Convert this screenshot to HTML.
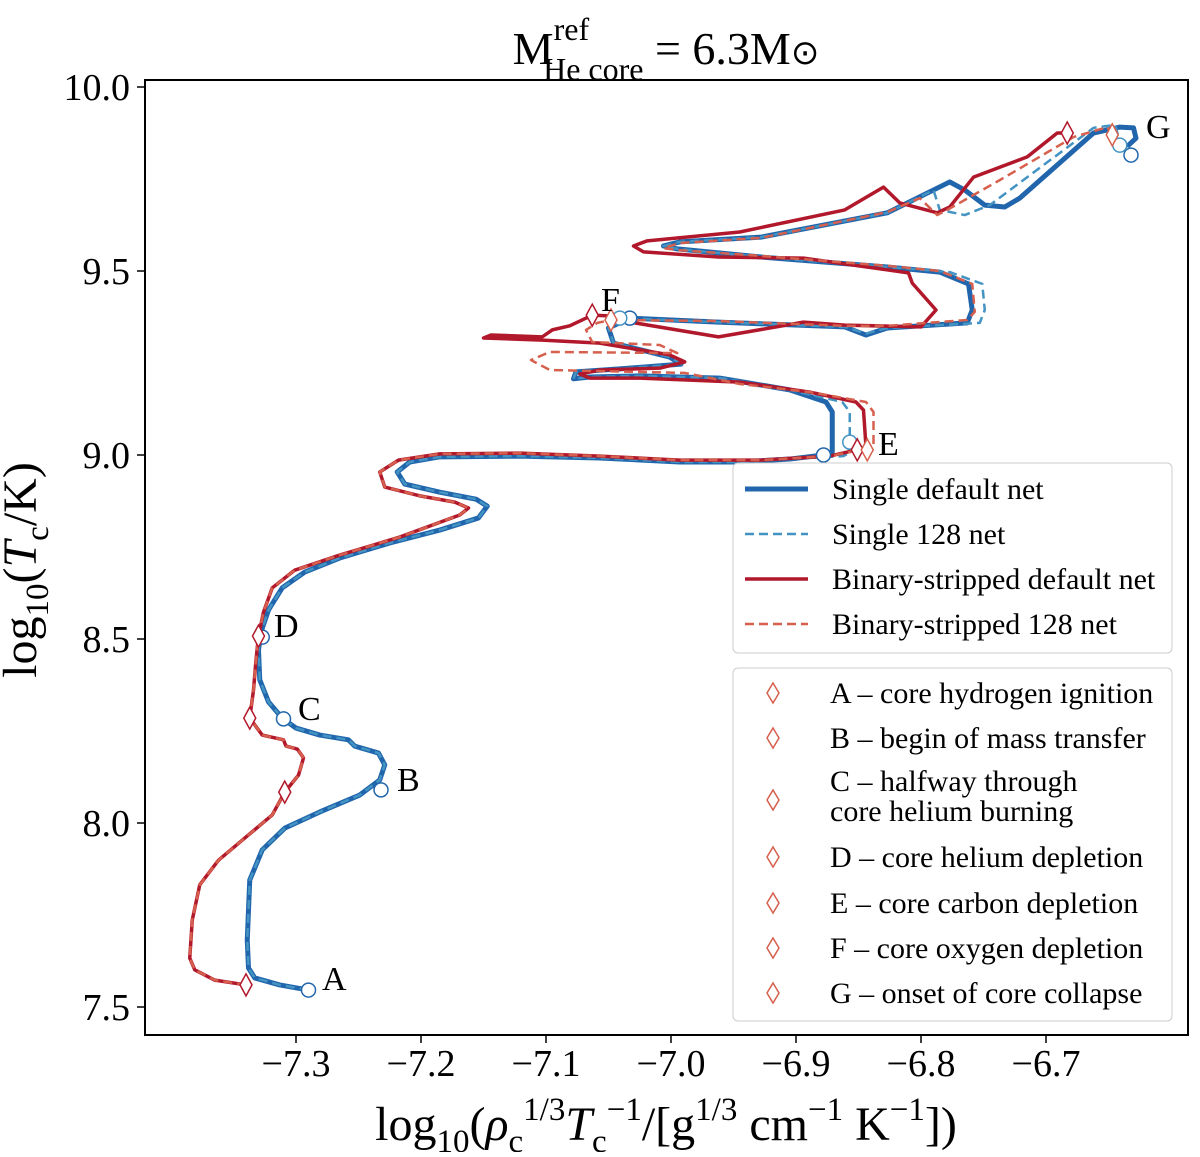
<!DOCTYPE html>
<html><head><meta charset="utf-8"><style>
html,body{margin:0;padding:0;background:#fff}
svg text{font-family:"Liberation Serif","DejaVu Serif",serif;fill:#000}
</style></head><body>
<svg id="chart" width="1200" height="1152" viewBox="0 0 1200 1152" xmlns="http://www.w3.org/2000/svg">
<text x="666" y="64" font-size="46" text-anchor="middle">M<tspan font-size="32" dy="-24">ref</tspan><tspan font-size="32" dx="-46" dy="40">He core</tspan><tspan dy="-16"> = 6.3M</tspan><tspan font-family="DejaVu Sans" font-size="34">⊙</tspan></text>
<rect x="145" y="80" width="1043" height="955" fill="none" stroke="#000" stroke-width="2"/>
<g id="ticks"></g>
<g id="series"></g>
<g id="markers"></g>
<g id="labels" font-size="34">
<text x="322" y="990">A</text>
<text x="397" y="791">B</text>
<text x="298" y="720">C</text>
<text x="274" y="637">D</text>
<text x="878" y="455">E</text>
<text x="601" y="311">F</text>
<text x="1146" y="138">G</text>
</g>
<text transform="translate(36,570) rotate(-90)" font-size="48" text-anchor="middle">log<tspan font-size="33" dy="12">10</tspan><tspan dy="-12">(</tspan><tspan font-style="italic">T</tspan><tspan font-size="33" dy="12">c</tspan><tspan dy="-12">/K)</tspan></text>
<text x="666" y="1140" font-size="48" text-anchor="middle">log<tspan font-size="33" dy="12">10</tspan><tspan dy="-12">(</tspan><tspan font-style="italic">ρ</tspan><tspan font-size="33" dy="12">c</tspan><tspan font-size="33" dy="-32">1/3</tspan><tspan font-style="italic" dy="20">T</tspan><tspan font-size="33" dy="12">c</tspan><tspan font-size="33" dy="-32">−1</tspan><tspan dy="20">/[g</tspan><tspan font-size="33" dy="-20">1/3</tspan><tspan dy="20"> cm</tspan><tspan font-size="33" dy="-20">−1</tspan><tspan dy="20"> K</tspan><tspan font-size="33" dy="-20">−1</tspan><tspan dy="20">])</tspan></text>
<g font-size="30">
<rect x="733" y="463" width="439" height="190" rx="5" fill="#fff" fill-opacity="0.9" stroke="#ccc"/>
<g><line x1="745" y1="489" x2="808" y2="489" stroke="#2166ac" stroke-width="5"/><text x="832" y="499">Single default net</text></g>
<g><line x1="745" y1="534" x2="808" y2="534" stroke="#4393c3" stroke-width="2.5" stroke-dasharray="9,5"/><text x="832" y="544">Single 128 net</text></g>
<g><line x1="745" y1="579" x2="808" y2="579" stroke="#b2182b" stroke-width="3.5"/><text x="832" y="589">Binary-stripped default net</text></g>
<g><line x1="745" y1="624" x2="808" y2="624" stroke="#d6604d" stroke-width="2.5" stroke-dasharray="9,5"/><text x="832" y="634">Binary-stripped 128 net</text></g>
</g>
<g font-size="30">
<rect x="733" y="668" width="439" height="353" rx="5" fill="#fff" fill-opacity="0.9" stroke="#ccc"/>
<g id="leg2"></g>
<text x="830" y="703">A – core hydrogen ignition</text>
<text x="830" y="748">B – begin of mass transfer</text>
<text x="830" y="791">C – halfway through</text>
<text x="830" y="821">core helium burning</text>
<text x="830" y="867">D – core helium depletion</text>
<text x="830" y="913">E – core carbon depletion</text>
<text x="830" y="958">F – core oxygen depletion</text>
<text x="830" y="1003">G – onset of core collapse</text>
</g>
</svg>
<script>
const xTicks=[-7.3,-7.2,-7.1,-7.0,-6.9,-6.8,-6.7];
const xTickLabels=["−7.3","−7.2","−7.1","−7.0","−6.9","−6.8","−6.7"];
const yTicks=[7.5,8.0,8.5,9.0,9.5,10.0];
const yTickLabels=["7.5","8.0","8.5","9.0","9.5","10.0"];
const singleDefault=[[-7.290,7.546],[-7.313,7.560],[-7.333,7.579],[-7.338,7.606],[-7.339,7.682],[-7.337,7.845],[-7.327,7.927],[-7.309,7.986],[-7.281,8.030],[-7.249,8.076],[-7.233,8.117],[-7.229,8.158],[-7.234,8.190],[-7.253,8.209],[-7.258,8.226],[-7.281,8.239],[-7.300,8.258],[-7.311,8.285],[-7.322,8.329],[-7.329,8.389],[-7.330,8.470],[-7.328,8.519],[-7.322,8.579],[-7.311,8.639],[-7.293,8.682],[-7.265,8.720],[-7.225,8.761],[-7.185,8.796],[-7.154,8.829],[-7.147,8.861],[-7.156,8.880],[-7.185,8.899],[-7.213,8.921],[-7.219,8.954],[-7.209,8.981],[-7.185,8.995],[-7.121,8.997],[-7.057,8.992],[-6.993,8.981],[-6.945,8.981],[-6.905,8.989],[-6.878,9.000],[-6.871,9.008],[-6.871,9.117],[-6.876,9.144],[-6.905,9.177],[-6.961,9.209],[-7.025,9.215],[-7.065,9.212],[-7.078,9.207],[-7.076,9.226],[-7.041,9.234],[-6.992,9.247],[-7.001,9.266],[-7.046,9.304],[-7.050,9.345],[-7.033,9.372],[-6.962,9.361],[-6.861,9.348],[-6.844,9.326],[-6.827,9.345],[-6.763,9.359],[-6.759,9.394],[-6.762,9.465],[-6.785,9.497],[-6.827,9.511],[-6.928,9.538],[-6.995,9.560],[-7.006,9.568],[-6.993,9.579],[-6.928,9.592],[-6.827,9.658],[-6.777,9.742],[-6.765,9.720],[-6.749,9.679],[-6.733,9.674],[-6.721,9.698],[-6.662,9.875],[-6.641,9.891],[-6.630,9.889],[-6.628,9.861],[-6.634,9.842]];
const single128=[[-7.290,7.546],[-7.313,7.560],[-7.333,7.579],[-7.338,7.606],[-7.339,7.682],[-7.337,7.845],[-7.327,7.927],[-7.309,7.986],[-7.281,8.030],[-7.249,8.076],[-7.233,8.117],[-7.229,8.158],[-7.234,8.190],[-7.253,8.209],[-7.258,8.226],[-7.281,8.239],[-7.300,8.258],[-7.311,8.285],[-7.322,8.329],[-7.329,8.389],[-7.330,8.470],[-7.328,8.519],[-7.322,8.579],[-7.311,8.639],[-7.293,8.682],[-7.265,8.720],[-7.225,8.761],[-7.185,8.796],[-7.154,8.829],[-7.147,8.861],[-7.156,8.880],[-7.185,8.899],[-7.213,8.921],[-7.219,8.954],[-7.209,8.981],[-7.185,8.995],[-7.121,8.997],[-7.057,8.992],[-6.993,8.981],[-6.945,8.981],[-6.905,8.989],[-6.862,8.997],[-6.858,9.005],[-6.857,9.035],[-6.857,9.117],[-6.863,9.144],[-6.905,9.177],[-6.961,9.209],[-7.025,9.215],[-7.065,9.212],[-7.078,9.207],[-7.076,9.226],[-7.041,9.234],[-6.992,9.247],[-7.001,9.266],[-7.046,9.304],[-7.050,9.345],[-7.041,9.372],[-6.962,9.361],[-6.861,9.348],[-6.844,9.330],[-6.827,9.345],[-6.753,9.359],[-6.749,9.394],[-6.751,9.465],[-6.777,9.497],[-6.827,9.511],[-6.928,9.538],[-6.995,9.560],[-7.006,9.568],[-6.993,9.579],[-6.928,9.592],[-6.827,9.658],[-6.790,9.720],[-6.785,9.666],[-6.765,9.652],[-6.745,9.679],[-6.662,9.889],[-6.645,9.897],[-6.641,9.856],[-6.641,9.842]];
const binaryDefault=[[-7.340,7.560],[-7.365,7.573],[-7.381,7.601],[-7.385,7.633],[-7.383,7.736],[-7.377,7.832],[-7.362,7.899],[-7.341,7.959],[-7.319,8.022],[-7.309,8.084],[-7.298,8.130],[-7.294,8.177],[-7.299,8.201],[-7.308,8.209],[-7.310,8.226],[-7.327,8.239],[-7.337,8.285],[-7.334,8.361],[-7.332,8.443],[-7.330,8.508],[-7.326,8.573],[-7.319,8.639],[-7.301,8.687],[-7.265,8.728],[-7.217,8.777],[-7.169,8.837],[-7.162,8.856],[-7.173,8.872],[-7.201,8.889],[-7.229,8.913],[-7.233,8.954],[-7.218,8.986],[-7.185,9.003],[-7.121,9.005],[-7.057,8.997],[-6.993,8.986],[-6.929,8.986],[-6.873,8.997],[-6.851,9.014],[-6.844,9.022],[-6.846,9.122],[-6.852,9.144],[-6.889,9.171],[-6.945,9.198],[-7.025,9.209],[-7.065,9.209],[-7.073,9.220],[-7.057,9.231],[-7.009,9.236],[-6.989,9.253],[-7.001,9.272],[-7.057,9.304],[-7.103,9.312],[-7.150,9.318],[-7.144,9.326],[-7.103,9.321],[-7.095,9.340],[-7.081,9.351],[-7.063,9.380],[-7.050,9.378],[-7.029,9.359],[-6.962,9.321],[-6.894,9.361],[-6.861,9.353],[-6.800,9.348],[-6.788,9.394],[-6.807,9.467],[-6.810,9.495],[-6.894,9.535],[-6.962,9.538],[-7.022,9.552],[-7.030,9.568],[-7.019,9.582],[-6.945,9.606],[-6.861,9.666],[-6.830,9.728],[-6.817,9.685],[-6.787,9.658],[-6.777,9.674],[-6.758,9.755],[-6.715,9.810],[-6.691,9.875],[-6.683,9.875]];
const binary128=[[-7.340,7.560],[-7.365,7.573],[-7.381,7.601],[-7.385,7.633],[-7.383,7.736],[-7.377,7.832],[-7.362,7.899],[-7.341,7.959],[-7.319,8.022],[-7.309,8.084],[-7.298,8.130],[-7.294,8.177],[-7.299,8.201],[-7.308,8.209],[-7.310,8.226],[-7.327,8.239],[-7.337,8.285],[-7.334,8.361],[-7.332,8.443],[-7.330,8.508],[-7.326,8.573],[-7.319,8.639],[-7.301,8.687],[-7.265,8.728],[-7.217,8.777],[-7.169,8.837],[-7.162,8.856],[-7.173,8.872],[-7.201,8.889],[-7.229,8.913],[-7.233,8.954],[-7.218,8.986],[-7.185,9.003],[-7.121,9.005],[-7.057,8.997],[-6.993,8.986],[-6.929,8.986],[-6.873,8.997],[-6.841,9.019],[-6.838,9.027],[-6.838,9.117],[-6.844,9.144],[-6.889,9.171],[-6.945,9.193],[-6.989,9.223],[-7.097,9.231],[-7.112,9.258],[-7.097,9.280],[-6.995,9.277],[-7.009,9.299],[-7.063,9.307],[-7.068,9.340],[-7.059,9.359],[-7.048,9.367],[-6.962,9.364],[-6.861,9.351],[-6.827,9.351],[-6.763,9.367],[-6.757,9.389],[-6.759,9.465],[-6.785,9.500],[-6.827,9.514],[-6.928,9.541],[-6.995,9.557],[-7.006,9.562],[-6.993,9.576],[-6.928,9.590],[-6.827,9.660],[-6.801,9.698],[-6.787,9.652],[-6.779,9.666],[-6.737,9.747],[-6.678,9.864],[-6.651,9.891],[-6.647,9.870]];
const singleMarkers=[[-7.290,7.546],[-7.232,8.090],[-7.310,8.283],[-7.327,8.505],[-6.878,9.000],[-7.033,9.372],[-6.632,9.815]];
const single128Markers=[[-6.857,9.035],[-7.041,9.372],[-6.641,9.842]];
const binaryMarkers=[[-7.340,7.560],[-7.309,8.084],[-7.337,8.285],[-7.330,8.508],[-6.851,9.014],[-7.063,9.380],[-6.683,9.875]];
const binary128Markers=[[-6.843,9.014],[-7.048,9.367],[-6.647,9.870]];
const legendMarkerY=[693,738,800,857,903,948,993];

const NS="http://www.w3.org/2000/svg";
const sx=v=>296+(v+7.3)*1250;
const sy=v=>87+(10-v)*368;
function mk(tag,attrs,parent){const e=document.createElementNS(NS,tag);for(const k in attrs)e.setAttribute(k,attrs[k]);parent.appendChild(e);return e;}
const ticks=document.getElementById('ticks');
xTicks.forEach((t,i)=>{
  const l=mk('line',{x1:sx(t),x2:sx(t),y1:1035,y2:1043,stroke:'#000','stroke-width':1.5},ticks);
  
  
  const tx=mk('text',{x:sx(t),y:1076,'font-size':38,'text-anchor':'middle'},ticks);
  tx.textContent=xTickLabels[i];
  
  
});
yTicks.forEach((t,i)=>{
  const l=mk('line',{x1:137,x2:145,y1:sy(t),y2:sy(t),stroke:'#000','stroke-width':1.5},ticks);
  
  
  const tx=mk('text',{x:130,y:sy(t)+13,'font-size':38,'text-anchor':'end'},ticks);
  tx.textContent=yTickLabels[i];
  
  
});
const series=document.getElementById('series');
function line(data,color,w,dash,name){
  const p=mk('polyline',{points:data.map(d=>sx(d[0])+','+sy(d[1])).join(' '),fill:'none',stroke:color,'stroke-width':w,'stroke-linejoin':'round','stroke-linecap':'round'},series);
  if(dash){p.setAttribute('stroke-dasharray',dash);p.setAttribute('stroke-linecap','butt');}
  
  
}
line(singleDefault,'#2166ac',5,null,'series-single-default');
line(single128,'#4393c3',2.5,'9,5','series-single-128');
line(binaryDefault,'#b2182b',3.5,null,'series-binary-default');
line(binary128,'#d6604d',2.5,'9,5','series-binary-128');
const mg=document.getElementById('markers');
function circles(data,color,name){data.forEach(d=>{
  const c=mk('circle',{cx:sx(d[0]),cy:sy(d[1]),r:7,fill:'#fff',stroke:color,'stroke-width':1.5},mg);
  
  
});}
function diamonds(data,color,name){data.forEach(d=>{
  const x=sx(d[0]),y=sy(d[1]);
  const p=mk('polygon',{points:`${x},${y-11} ${x+6},${y} ${x},${y+11} ${x-6},${y}`,fill:'#fff',stroke:color,'stroke-width':1.5},mg);
  
  
});}
circles(singleMarkers,'#2166ac','single-default-marker');
circles(single128Markers,'#4393c3','single-128-marker');
diamonds(binaryMarkers,'#b2182b','binary-default-marker');
diamonds(binary128Markers,'#d6604d','binary-128-marker');
const leg2=document.getElementById('leg2');
legendMarkerY.forEach(y=>{
  const p=mk('polygon',{points:`773,${y-10} 779,${y} 773,${y+10} 767,${y}`,fill:'#fff',stroke:'#d6604d','stroke-width':1.5},leg2);
  
  
});
</script>
</body></html>
